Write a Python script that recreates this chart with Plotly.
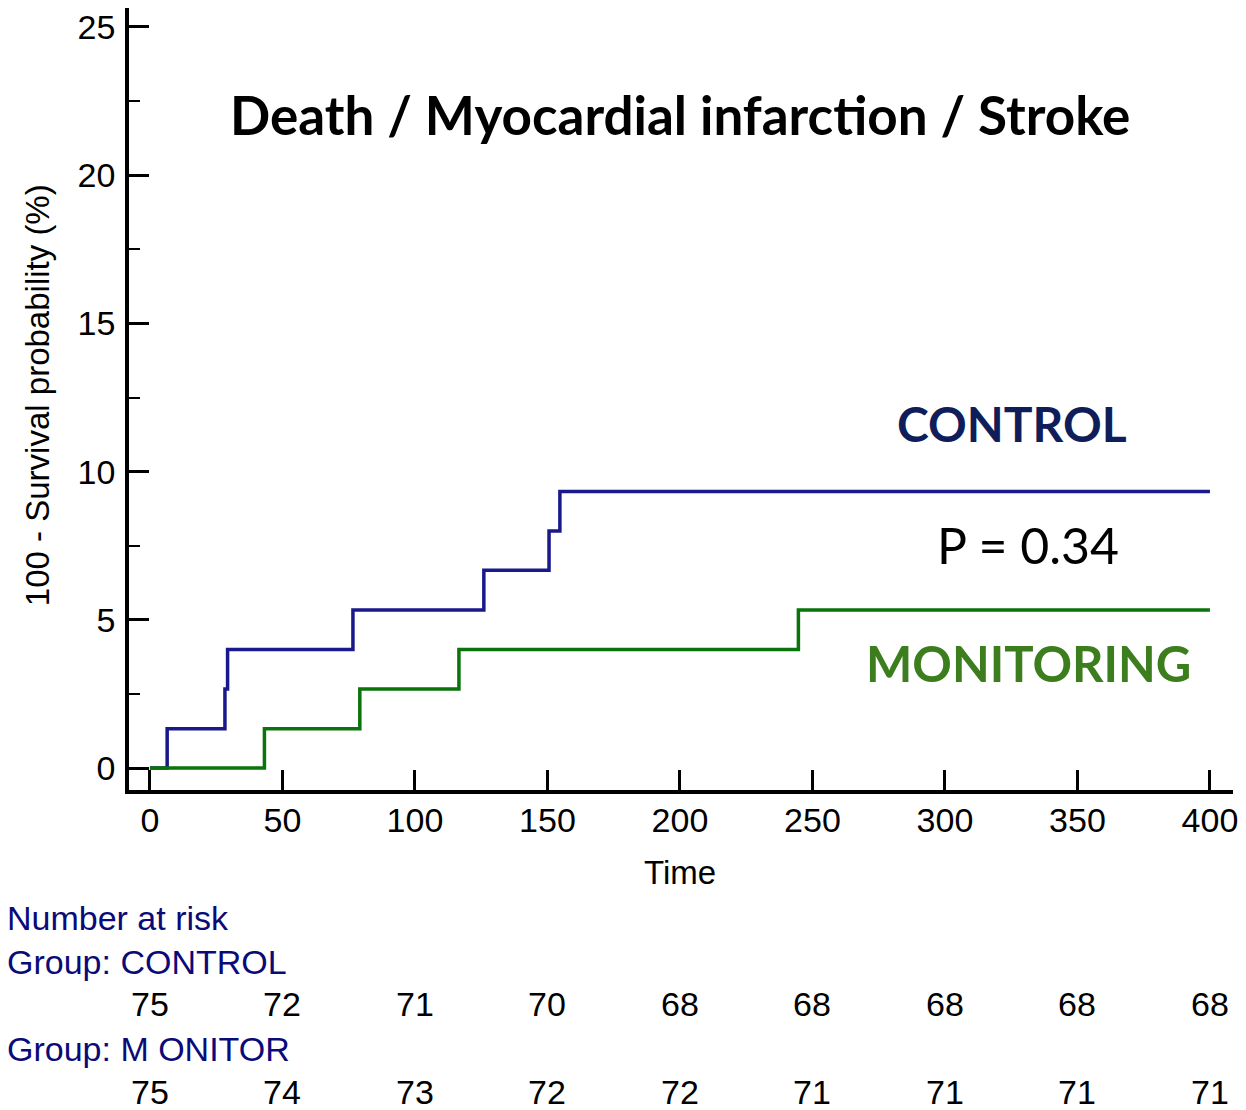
import plotly.graph_objects as go

# ---- data ----
control_time = [0, 6.5, 28.3, 29.3, 76.6, 126.0, 150.6, 154.7, 400]
control_pct = [0, 1.33, 2.67, 4.00, 5.33, 6.67, 8.00, 9.33, 9.33]
monitor_time = [0, 43.2, 79.2, 116.6, 244.7, 400]
monitor_pct = [0, 1.33, 2.67, 4.00, 5.33, 5.33]

x_ticks = [0, 50, 100, 150, 200, 250, 300, 350, 400]
y_ticks = [0, 5, 10, 15, 20, 25]
risk_times = [0, 50, 100, 150, 200, 250, 300, 350, 400]
risk_control = [75, 72, 71, 70, 68, 68, 68, 68, 68]
risk_monitor = [75, 74, 73, 72, 72, 71, 71, 71, 71]

title_text = "Death / Myocardial infarction / Stroke"
p_text = "P = 0.34"

BLUE_LINE = "rgb(25,25,140)"
GREEN_LINE = "rgb(10,115,10)"
NAVY_TEXT = "rgb(15,30,90)"
GREEN_TEXT = "rgb(60,125,30)"
RISK_TEXT = "rgb(10,10,120)"
SANS = "Liberation Sans, Arial, sans-serif"
CAL = "Lato, Carlito, Calibri, sans-serif"

fig = go.Figure()
fig.add_trace(go.Scatter(x=control_time, y=control_pct, mode="lines",
                         line=dict(color=BLUE_LINE, width=3.5, shape="hv"),
                         name="CONTROL", showlegend=False))
fig.add_trace(go.Scatter(x=monitor_time, y=monitor_pct, mode="lines",
                         line=dict(color=GREEN_LINE, width=3.5, shape="hv"),
                         name="MONITORING", showlegend=False))

fig.update_xaxes(range=[-7.9, 408.7], tickvals=x_ticks, ticks="inside",
                 ticklen=20, tickwidth=3, tickcolor="black",
                 showline=True, linecolor="black", linewidth=3.5,
                 showgrid=False, zeroline=False, ticklabelstandoff=-3,
                 ticklabeloverflow="allow",
                 tickfont=dict(family=SANS, size=34, color="black"))
fig.update_yaxes(range=[-0.74, 25.64], tickvals=y_ticks, ticks="inside",
                 ticklen=20, tickwidth=3, tickcolor="black",
                 minor=dict(dtick=2.5, tick0=0, ticks="inside", ticklen=11,
                            tickwidth=2, tickcolor="black", showgrid=False),
                 showline=True, linecolor="black", linewidth=3.5,
                 showgrid=False, zeroline=False, ticklabelstandoff=3,
                 ticklabeloverflow="allow",
                 tickfont=dict(family=SANS, size=34, color="black"))


def txt(x, y, text, size, color, xref="x", yref="y", xanchor="center",
        weight="normal", family=SANS, angle=0):
    return dict(x=x, y=y, xref=xref, yref=yref, text=text, showarrow=False,
                xanchor=xanchor, yanchor="middle", textangle=angle,
                font=dict(family=family, size=size, color=color, weight=weight))


ann = [
    txt(200, 22.06, title_text, 53, "black", weight="bold", family=CAL),
    txt(325.3, 11.64, "CONTROL", 48, NAVY_TEXT, weight="bold", family=CAL),
    txt(331.3, 7.52, p_text, 50, "black", family=CAL),
    txt(331.7, 3.54, "MONITORING", 49, GREEN_TEXT, weight="bold", family=CAL),
    txt(-0.0833, 0.505, "100 - Survival probability (%)", 33, "black",
        xref="paper", yref="paper", angle=-90),
    txt(200, -0.1061, "Time", 33, "black", yref="paper"),
    txt(-0.1123, -0.1637, "Number at risk", 34, RISK_TEXT,
        xref="paper", yref="paper", xanchor="left"),
    txt(-0.1123, -0.2200, "Group: CONTROL", 34, RISK_TEXT,
        xref="paper", yref="paper", xanchor="left"),
    txt(-0.1123, -0.3312, "Group: M ONITOR", 34, RISK_TEXT,
        xref="paper", yref="paper", xanchor="left"),
]
for t, n in zip(risk_times, risk_control):
    ann.append(txt(t, -0.2737, str(n), 34, "black", yref="paper"))
for t, n in zip(risk_times, risk_monitor):
    ann.append(txt(t, -0.3862, str(n), 34, "black", yref="paper"))

fig.update_layout(width=1238, height=1102,
                  margin=dict(l=121, r=13, t=0, b=320, autoexpand=False),
                  paper_bgcolor="white", plot_bgcolor="white",
                  annotations=ann, showlegend=False)

fig.write_html("out.html")
